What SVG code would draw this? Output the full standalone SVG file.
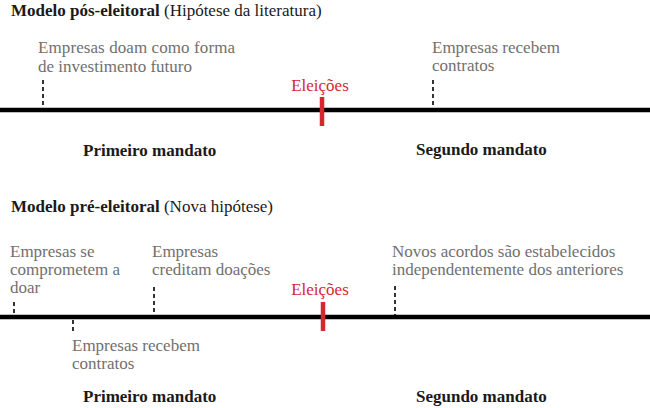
<svg xmlns="http://www.w3.org/2000/svg" width="650" height="408" viewBox="0 0 650 408" font-family="'Liberation Serif', 'DejaVu Serif', serif">
<style>
text{font-family:"Liberation Serif","DejaVu Serif",serif;font-size:17px}
.t{fill:#1a1a1a}
.b{font-weight:bold;fill:#1a1a1a}
.g{fill:#707070}
.r{fill:#d7262e}
.axis{stroke:#000;stroke-width:4.5}
.dash{stroke:#000;stroke-width:1.6;stroke-dasharray:4,3}
.tick{stroke:#d7262e;stroke-width:4.5}
</style>
<rect width="650" height="408" fill="#fff"/>
<g id="title1"><text x="11" y="16" font-size="16.6"><tspan class="b">Modelo pós-eleitoral</tspan><tspan class="t"> (Hipótese da literatura)</tspan></text></g>
<g id="connectors">
<line class="axis" x1="0" y1="110" x2="650" y2="110"/>
<line class="axis" x1="0" y1="317" x2="650" y2="317"/>
<line class="dash" x1="43" y1="80" x2="43" y2="108"/>
<line class="dash" x1="433" y1="80" x2="433" y2="108"/>
<line class="dash" x1="14" y1="302" x2="14" y2="315"/>
<line class="dash" x1="154" y1="287" x2="154" y2="315"/>
<line class="dash" x1="73" y1="320" x2="73" y2="334"/>
<line class="dash" x1="395" y1="286" x2="395" y2="315"/>
</g>
<g id="eleicoes1"><line class="tick" x1="322" y1="97" x2="322" y2="126"/><text class="r" x="320" y="91" text-anchor="middle">Eleições</text></g>
<g id="ev1a"><text class="g" x="38" y="53" textLength="197">Empresas doam como forma</text><text class="g" x="38" y="72" textLength="154">de investimento futuro</text></g>
<g id="ev1b"><text class="g" x="432" y="53">Empresas recebem</text><text class="g" x="432" y="71">contratos</text></g>
<g id="mandato1"><text class="b" x="83" y="156">Primeiro mandato</text><text class="b" x="416" y="155">Segundo mandato</text></g>
<g id="title2"><text x="11" y="212"><tspan class="b">Modelo pré-eleitoral</tspan><tspan class="t"> (Nova hipótese)</tspan></text></g>
<g id="eleicoes2"><line class="tick" x1="323" y1="302" x2="323" y2="331"/><text class="r" x="320" y="295" text-anchor="middle">Eleições</text></g>
<g id="ev2a"><text class="g" x="10" y="257">Empresas se</text><text class="g" x="10" y="275">comprometem a</text><text class="g" x="10" y="293">doar</text></g>
<g id="ev2b"><text class="g" x="152" y="257">Empresas</text><text class="g" x="152" y="275">creditam doações</text></g>
<g id="ev2c"><text class="g" x="72" y="351">Empresas recebem</text><text class="g" x="72" y="369">contratos</text></g>
<g id="ev2d"><text class="g" x="392" y="257">Novos acordos são estabelecidos</text><text class="g" x="392" y="275">independentemente dos anteriores</text></g>
<g id="mandato2"><text class="b" x="83" y="402">Primeiro mandato</text><text class="b" x="416" y="402">Segundo mandato</text></g>
</svg>
